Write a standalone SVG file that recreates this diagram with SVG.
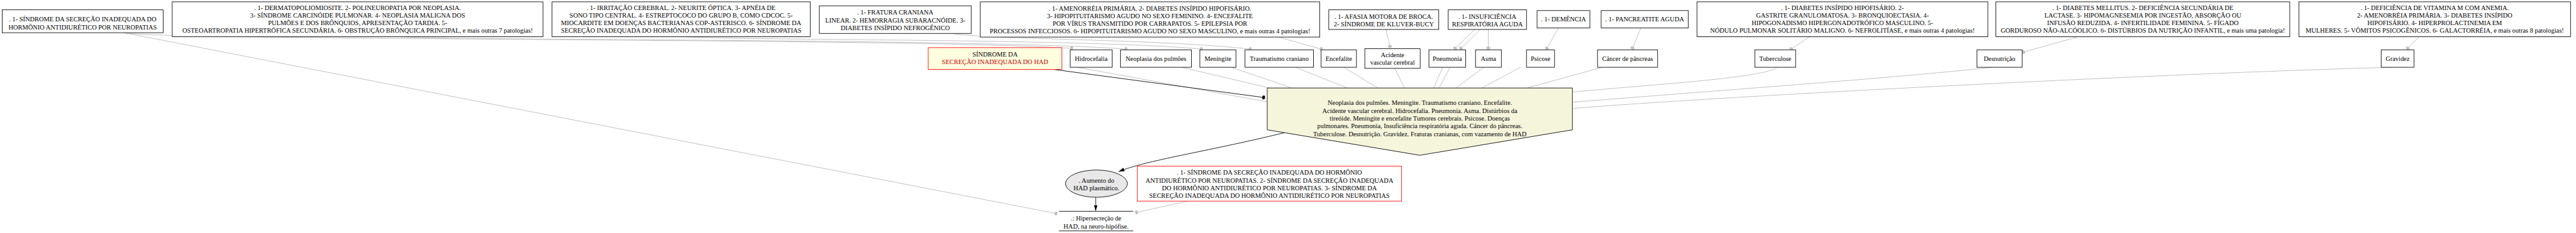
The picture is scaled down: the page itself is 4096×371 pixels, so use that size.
<svg xmlns="http://www.w3.org/2000/svg" width="4096" height="371" viewBox="0 0 4096 371">
<style>
text{font-family:"Liberation Serif","Times New Roman",serif;font-size:18px;fill:#000;text-anchor:middle}
.box{fill:#fff;stroke:#000;stroke-width:1.5}
.g{fill:none;stroke:#c0c0c0;stroke-width:1.7}
.k{fill:none;stroke:#000;stroke-width:1.5}
</style>
<defs>
<marker id="gdot" viewBox="-6 -6 12 12" markerWidth="12" markerHeight="12" markerUnits="userSpaceOnUse" refX="0" refY="0" orient="auto"><ellipse rx="4" ry="5.5" fill="#c0c0c0"/></marker>
<marker id="kdot" viewBox="-6 -6 12 12" markerWidth="12" markerHeight="12" markerUnits="userSpaceOnUse" refX="0" refY="0" orient="auto"><ellipse rx="4" ry="5.5" fill="#000"/></marker>
<marker id="karr" viewBox="0 0 16 10" markerWidth="16" markerHeight="10" markerUnits="userSpaceOnUse" refX="16" refY="5" orient="auto"><path d="M0,0 L16,5 L0,10 Z" fill="#000"/></marker>
</defs>
<rect width="4096" height="371" fill="#fff"/>
<g transform="scale(0.57902)">
<g id="connectors">
<path class="g" d="M345 90 C420 112 2500 104 2943 133" marker-end="url(#gdot)"/>
<path class="g" d="M340 90 L2900 587" marker-end="url(#gdot)"/>
<path class="g" d="M1100 101 C1250 112 2700 106 3092 135" marker-end="url(#gdot)"/>
<path class="g" d="M1880 101 C2000 111 3000 106 3299 135" marker-end="url(#gdot)"/>
<path class="g" d="M2614 92 C2700 108 3200 108 3433 135" marker-end="url(#gdot)"/>
<path class="g" d="M3511 102 L3628 135" marker-end="url(#gdot)"/>
<path class="g" d="M3806 81 L3817 128" marker-end="url(#gdot)"/>
<path class="g" d="M4051 80 L3996 133" marker-end="url(#gdot)"/>
<path class="g" d="M4066 80 L4012 133" marker-end="url(#gdot)"/>
<path class="g" d="M4087 81 L4087 132" marker-end="url(#gdot)"/>
<path class="g" d="M4280 77 L4248 133" marker-end="url(#gdot)"/>
<path class="g" d="M4506 77 L4483 132" marker-end="url(#gdot)"/>
<path class="g" d="M4968 102 L4919 135" marker-end="url(#gdot)"/>
<path class="g" d="M5704 102 L5557 143" marker-end="url(#gdot)"/>
<path class="g" d="M6643 101 L6612 133" marker-end="url(#gdot)"/>
<path class="g" d="M2958 185 L3480 280"/>
<path class="g" d="M3245 185 L3487 242"/>
<path class="g" d="M3381 185 L3548 242"/>
<path class="g" d="M3557 185 L3700 242"/>
<path class="g" d="M3690 185 L3784 242"/>
<path class="g" d="M3830 188 L3857 242"/>
<path class="g" d="M3962 185 L3937 242"/>
<path class="g" d="M3982 185 L3952 242"/>
<path class="g" d="M4075 185 L3998 242"/>
<path class="g" d="M4176 185 L4069 242"/>
<path class="g" d="M4400 185 L4193 242"/>
<path class="g" d="M4880 185 C4850 215 4500 235 4320 253"/>
<path class="g" d="M5470 185 C5200 215 4700 250 4320 281"/>
<path class="g" d="M6570 185 C6000 200 4800 260 4320 298"/>
<path class="k" d="M2894 191 L3470 268" marker-end="url(#kdot)"/>
<path class="k" d="M3527 365 C3300 420 3150 440 3072 472" marker-end="url(#karr)"/>
<path class="k" d="M3009 543 L3009 580" marker-end="url(#karr)"/>
<path class="g" d="M3263 553 L3121 584" marker-end="url(#gdot)"/>
</g>
<g id="nA"><rect class="box" x="6" y="27" width="442" height="63"/>
<text x="227" y="59">. 1- SÍNDROME DA SECREÇÃO INADEQUADA DO</text>
<text x="227" y="81">HORMÔNIO ANTIDIURÉTICO POR NEUROPATIAS</text></g>
<g id="nB"><rect class="box" x="473" y="5" width="1018" height="96"/>
<text x="982" y="27.5">. 1- DERMATOPOLIOMIOSITE. 2- POLINEUROPATIA POR NEOPLASIA.</text>
<text x="982" y="48">3- SÍNDROME CARCINÓIDE PULMONAR. 4- NEOPLASIA MALIGNA DOS</text>
<text x="982" y="68.5">PULMÕES E DOS BRÔNQUIOS, APRESENTAÇÃO TARDIA. 5-</text>
<text x="982" y="89">OSTEOARTROPATIA HIPERTRÓFICA SECUNDÁRIA. 6- OBSTRUÇÃO BRÔNQUICA PRINCIPAL, e mais outras 7 patologias!</text></g>
<g id="nC"><rect class="box" x="1516" y="5" width="709" height="96"/>
<text x="1870.5" y="27.5">. 1- IRRITAÇÃO CEREBRAL. 2- NEURITE ÓPTICA. 3- APNÉIA DE</text>
<text x="1870.5" y="48">SONO TIPO CENTRAL. 4- ESTREPTOCOCO DO GRUPO B, COMO CDCOC. 5-</text>
<text x="1870.5" y="68.5">MIOCARDITE EM DOENÇAS BACTERIANAS COP-ASTERISCO. 6- SÍNDROME DA</text>
<text x="1870.5" y="89">SECREÇÃO INADEQUADA DO HORMÔNIO ANTIDIURÉTICO POR NEUROPATIAS</text></g>
<g id="nD"><rect class="box" x="2250" y="16" width="417" height="76"/>
<text x="2458.5" y="40">. 1- FRATURA CRANIANA</text>
<text x="2458.5" y="61.5">LINEAR. 2- HEMORRAGIA SUBARACNÓIDE. 3-</text>
<text x="2458.5" y="83">DIABETES INSÍPIDO NEFROGÊNICO</text></g>
<g id="nE"><rect class="box" x="2692" y="5" width="932" height="97"/>
<text x="3158" y="28.5">. 1- AMENORRÉIA PRIMÁRIA. 2- DIABETES INSÍPIDO HIPOFISÁRIO.</text>
<text x="3158" y="50">3- HIPOPITUITARISMO AGUDO NO SEXO FEMININO. 4- ENCEFALITE</text>
<text x="3158" y="71.5">POR VÍRUS TRANSMITIDO POR CARRAPATOS. 5- EPILEPSIA POR</text>
<text x="3158" y="92">PROCESSOS INFECCIOSOS. 6- HIPOPITUITARISMO AGUDO NO SEXO MASCULINO, e mais outras 4 patologias!</text></g>
<g id="nF"><rect class="box" x="3649" y="27" width="302" height="54"/>
<text x="3800" y="52">. 1- AFASIA MOTORA DE BROCA.</text>
<text x="3800" y="72">2- SÍNDROME DE KLUVER-BUCY</text></g>
<g id="nG"><rect class="box" x="3977" y="27" width="215" height="54"/>
<text x="4084.5" y="52">. 1- INSUFICIÊNCIA</text>
<text x="4084.5" y="72">RESPIRATÓRIA AGUDA</text></g>
<g id="nH"><rect class="box" x="4221" y="29" width="145" height="48"/>
<text x="4293.5" y="59">. 1- DEMÊNCIA</text></g>
<g id="nI"><rect class="box" x="4397" y="29" width="239" height="48"/>
<text x="4516.5" y="59">. 1- PANCREATITE AGUDA</text></g>
<g id="nJ"><rect class="box" x="4660" y="5" width="799" height="96"/>
<text x="5059.5" y="27.5">. 1- DIABETES INSÍPIDO HIPOFISÁRIO. 2-</text>
<text x="5059.5" y="48">GASTRITE GRANULOMATOSA. 3- BRONQUIOECTASIA. 4-</text>
<text x="5059.5" y="68.5">HIPOGONADISMO HIPERGONADOTRÓFICO MASCULINO. 5-</text>
<text x="5059.5" y="89">NÓDULO PULMONAR SOLITÁRIO MALIGNO. 6- NEFROLITÍASE, e mais outras 4 patologias!</text></g>
<g id="nK"><rect class="box" x="5481" y="5" width="807" height="96"/>
<text x="5884.5" y="27.5">. 1- DIABETES MELLITUS. 2- DEFICIÊNCIA SECUNDÁRIA DE</text>
<text x="5884.5" y="48">LACTASE. 3- HIPOMAGNESEMIA POR INGESTÃO, ABSORÇÃO OU</text>
<text x="5884.5" y="68.5">INFUSÃO REDUZIDA. 4- INFERTILIDADE FEMININA. 5- FÍGADO</text>
<text x="5884.5" y="89">GORDUROSO NÃO-ALCÓOLICO. 6- DISTÚRBIOS DA NUTRIÇÃO INFANTIL, e mais uma patologia!</text></g>
<g id="nL"><rect class="box" x="6313" y="5" width="746" height="96"/>
<text x="6686" y="27.5">. 1- DEFICIÊNCIA DE VITAMINA M COM ANEMIA.</text>
<text x="6686" y="48">2- AMENORRÉIA PRIMÁRIA. 3- DIABETES INSÍPIDO</text>
<text x="6686" y="68.5">HIPOFISÁRIO. 4- HIPERPROLACTINEMIA EM</text>
<text x="6686" y="89">MULHERES. 5- VÔMITOS PSICOGÊNICOS. 6- GALACTORRÉIA, e mais outras 8 patologias!</text></g>
<g id="nSIADH"><rect x="2549" y="131" width="367" height="60" fill="#ffffe0" stroke="#ff0000" stroke-width="1.5"/>
<text x="2732.5" y="155">SÍNDROME DA</text>
<text x="2732.5" y="176" style="fill:#cc0000">SECREÇÃO INADEQUADA DO HAD</text></g>
<g id="m1"><rect class="box" x="2939" y="137" width="115" height="48"/><text x="2996.5" y="167">Hidrocefalia</text></g>
<g id="m2"><rect class="box" x="3077" y="137" width="195" height="48"/><text x="3174.5" y="167">Neoplasia dos pulmões</text></g>
<g id="m3"><rect class="box" x="3295" y="137" width="99" height="48"/><text x="3344.5" y="167">Meningite</text></g>
<g id="m4"><rect class="box" x="3419" y="137" width="188" height="48"/><text x="3513" y="167">Traumatismo craniano</text></g>
<g id="m5"><rect class="box" x="3628" y="137" width="97" height="48"/><text x="3676.5" y="167">Encefalite</text></g>
<g id="m6"><rect class="box" x="3748" y="134" width="152" height="54"/><text x="3824" y="157">Acidente</text><text x="3824" y="178">vascular cerebral</text></g>
<g id="m7"><rect class="box" x="3924" y="137" width="101" height="48"/><text x="3974.5" y="167">Pneumonia</text></g>
<g id="m8"><rect class="box" x="4052" y="137" width="71" height="48"/><text x="4087.5" y="167">Asma</text></g>
<g id="m9"><rect class="box" x="4192" y="137" width="77" height="48"/><text x="4230.5" y="167">Psicose</text></g>
<g id="m10"><rect class="box" x="4387" y="137" width="165" height="48"/><text x="4469.5" y="167">Câncer de pâncreas</text></g>
<g id="m11"><rect class="box" x="4819" y="137" width="112" height="48"/><text x="4875" y="167">Tuberculose</text></g>
<g id="m12"><rect class="box" x="5429" y="137" width="124" height="48"/><text x="5491" y="167">Desnutrição</text></g>
<g id="m13"><rect class="box" x="6539" y="137" width="90" height="48"/><text x="6584" y="167">Gravidez</text></g>
<g id="note"><path d="M3480 242 L4318 242 L4318 357 L3899 427 L3480 357 Z" fill="#f5f5dc" stroke="#000" stroke-width="1.5"/>
<text x="3899" y="289">Neoplasia dos pulmões. Meningite. Traumatismo craniano. Encefalite.</text>
<text x="3899" y="311">Acidente vascular cerebral. Hidrocefalia. Pneumonia. Asma. Distúrbios da</text>
<text x="3899" y="332">tireóide. Meningite e encefalite Tumores cerebrais. Psicose. Doenças</text>
<text x="3899" y="353">pulmonares. Pneumonia, Insuficiência respiratória aguda. Câncer do pâncreas.</text>
<text x="3899" y="375">Tuberculose. Desnutrição. Gravidez. Fraturas cranianas, com vazamento de HAD</text></g>
<g id="ell"><ellipse cx="3011" cy="505" rx="85" ry="37.5" fill="#e8e8e8" stroke="#000" stroke-width="1.5"/>
<text x="3011" y="502">. Aumento do</text><text x="3011" y="523">HAD plasmático.</text></g>
<g id="red"><rect x="3123" y="457" width="726" height="96" fill="#fff" stroke="#ff0000" stroke-width="1.5"/>
<text x="3486" y="480">. 1- SÍNDROME DA SECREÇÃO INADEQUADA DO HORMÔNIO</text>
<text x="3486" y="502">ANTIDIURÉTICO POR NEUROPATIAS. 2- SÍNDROME DA SECREÇÃO INADEQUADA</text>
<text x="3486" y="523">DO HORMÔNIO ANTIDIURÉTICO POR NEUROPATIAS. 3- SÍNDROME DA</text>
<text x="3486" y="544">SECREÇÃO INADEQUADA DO HORMÔNIO ANTIDIURÉTICO POR NEUROPATIAS</text></g>
<g id="hip"><line x1="2908" y1="581" x2="3112" y2="581" stroke="#000" stroke-width="1.5"/><line x1="2908" y1="635" x2="3112" y2="635" stroke="#000" stroke-width="1.5"/>
<text x="3010" y="607">.: Hipersecreção de</text><text x="3010" y="628">HAD, na neuro-hipófise.</text></g>
</g>
</svg>
